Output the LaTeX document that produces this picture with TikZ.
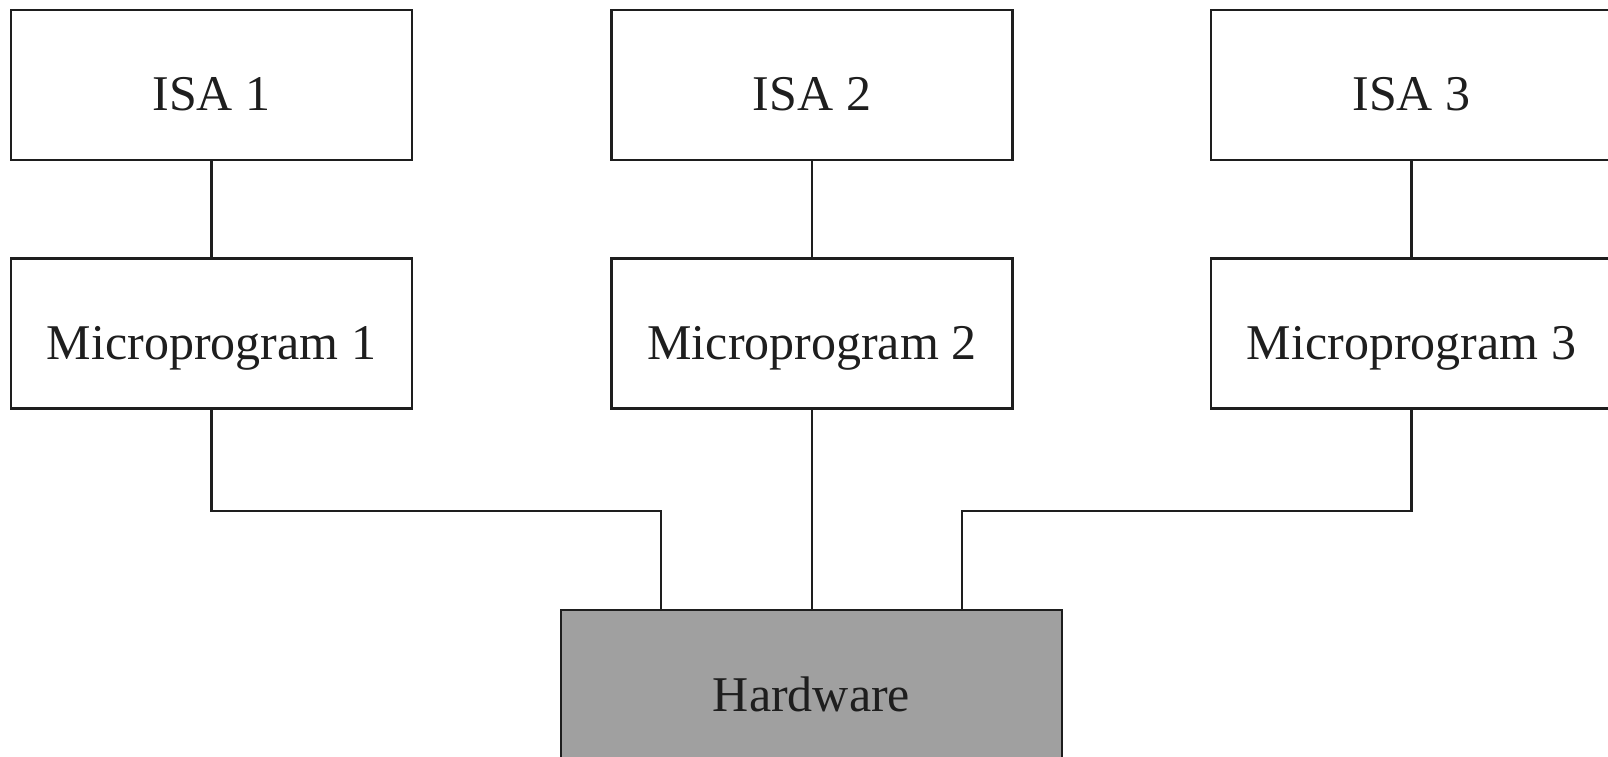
\documentclass[tikz,border=0pt]{standalone}
\usepackage{fontspec}
\setmainfont{Liberation Serif}
\definecolor{ink}{HTML}{1E1E1E}
\definecolor{hwgray}{HTML}{A0A0A0}
\begin{document}
\begin{tikzpicture}[x=1pt,y=-1pt,
  layerbox/.style={draw=ink, line width=2.5pt, fill=white, text=ink,
    minimum width=401pt, minimum height=150pt, inner sep=0pt,
    text height=52pt, text depth=0pt, anchor=center,
    font=\fontsize{50}{56}\selectfont},
  hwbox/.style={layerbox, fill=hwgray, minimum width=501pt},
  link/.style={draw=ink, line width=2.5pt}]
\useasboundingbox (0,0) rectangle (1608,757);
\clip (0,0) rectangle (1608,757);

% instruction set architectures
\node[layerbox] (isa1) at (211.5,85) {ISA 1};
\node[layerbox] (isa2) at (812,85) {ISA 2};
\node[layerbox] (isa3) at (1411.5,85) {ISA 3};

% microprograms interpreting each ISA
\node[layerbox] (mp1) at (211.5,333.5) {Microprogram 1};
\node[layerbox] (mp2) at (812,333.5) {Microprogram 2};
\node[layerbox] (mp3) at (1411.5,333.5) {Microprogram 3};

% shared hardware
\node[hwbox] (hw) at (811.5,685) {Hardware};

% vertical links ISA -> microprogram
\draw[link] (isa1.south) -- (mp1.north);
\draw[link] (isa2.south) -- (mp2.north);
\draw[link] (isa3.south) -- (mp3.north);

% microprograms down to the hardware
\coordinate (hwl) at ([xshift=-150.5pt]hw.north);
\coordinate (hwr) at ([xshift=150.5pt]hw.north);
\draw[link] (mp1.south) -- ++(0,101) -| (hwl);
\draw[link] (mp2.south) -- (mp2.south |- hw.north);
\draw[link] (mp3.south) -- ++(0,101) -| (hwr);
\end{tikzpicture}
\end{document}
